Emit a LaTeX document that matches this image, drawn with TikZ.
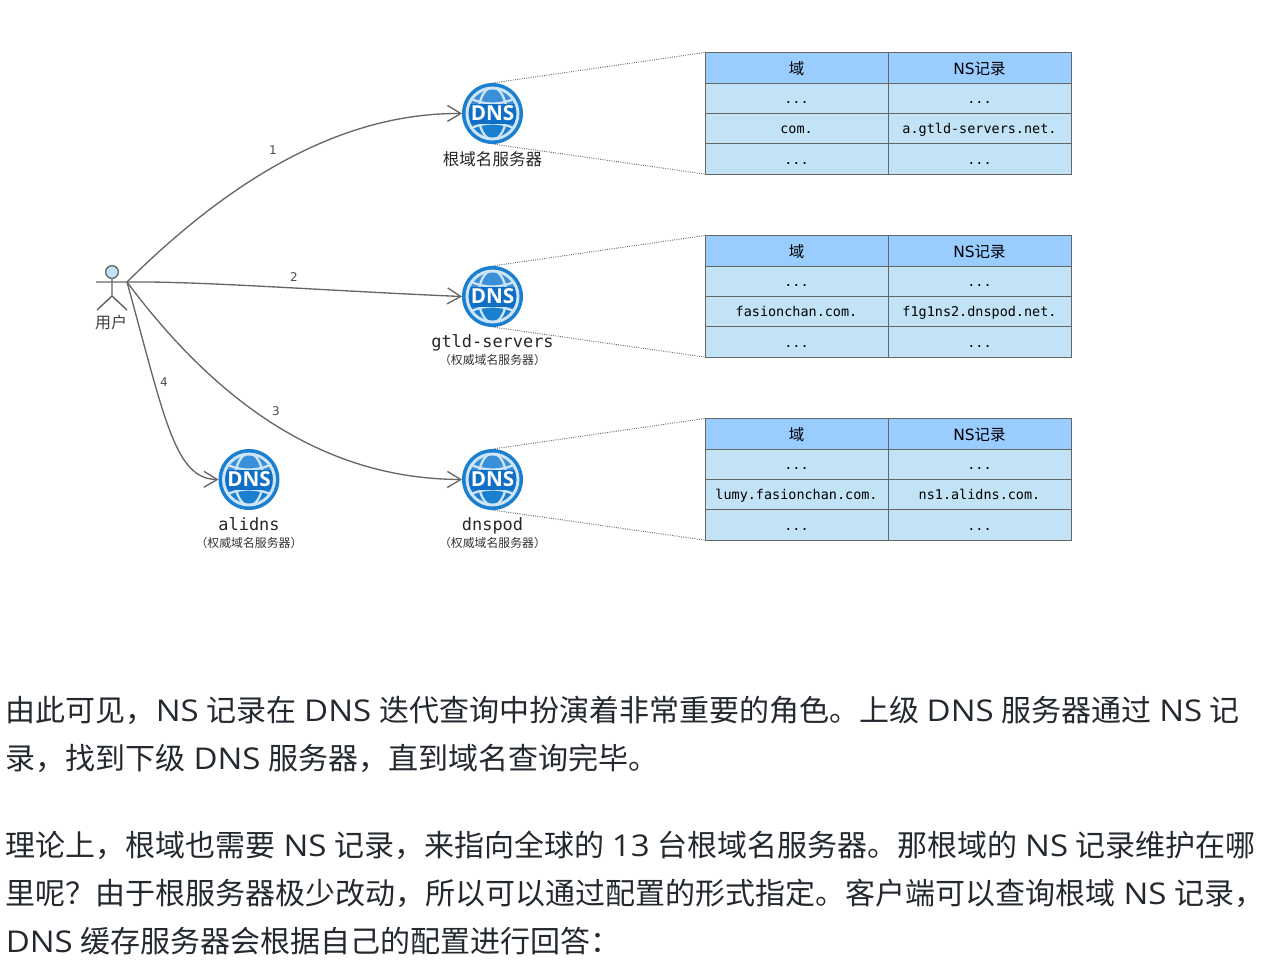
\documentclass[tikz,border=0pt]{standalone}
\usepackage{fontspec}
\setmainfont{Noto Sans CJK SC}
\setmonofont{DejaVu Sans Mono}
\newfontfamily\latfam[FakeStretch=1.1]{Open Sans}
\newfontfamily\iconfam{Open Sans}
\newfontfamily\dvfam{DejaVu Sans}
\usepackage{xcolor}
\usetikzlibrary{arrows.meta, positioning}
\definecolor{headblue}{HTML}{99CCFF}
\definecolor{cellblue}{HTML}{C2E3F6}
\definecolor{edgegray}{HTML}{666666}
\definecolor{dnsrim}{HTML}{1B7FD0}
\definecolor{dnsring}{HTML}{CFE5F6}
\definecolor{dnstop}{HTML}{3A90D8}
\definecolor{dnsband}{HTML}{0F6FC6}
\definecolor{bodyink}{HTML}{24292F}
\newcommand{\lat}[1]{{\latfam #1}}
\newcommand{\bodyfont}{\fontsize{22.5}{26}\selectfont\spaceskip 5.8pt\relax}
% one record table: name, y of the header row, domain, name server
\newcommand{\nstable}[4]{
  \node[headcell] (#1-a0) at (796.5,#2) {域};
  \node[headcell, right=0pt of #1-a0] (#1-b0) {{\dvfam NS}记录};
  \node[reccell, below=0pt of #1-a0] (#1-a1) {...};
  \node[reccell, below=0pt of #1-b0] (#1-b1) {...};
  \node[reccell, below=0pt of #1-a1] (#1-a2) {#3};
  \node[reccell, below=0pt of #1-b1] (#1-b2) {#4};
  \node[reccell, below=0pt of #1-a2] (#1-a3) {...};
  \node[reccell, below=0pt of #1-b2] (#1-b3) {...};
}
% globe with the DNS lettering on top: name, x, y
\newcommand{\dnsglobe}[3]{
  \node[dnsicon] (#1) at (#2,#3) {};
  \begin{scope}[shift={(#2,#3)}]
    \begin{scope}
      \clip (0,0) circle (26.5);
      \fill[dnstop] (-27,-27) rectangle (27,0);
      \draw[dnsring, line width=1.7pt] (0,0) ellipse (14 and 26);
      \draw[dnsring, line width=1.7pt] (-24,-16) .. controls (-9,-8) and (9,-8) .. (24,-16);
      \draw[dnsring, line width=1.7pt] (-24,16) .. controls (-9,8) and (9,8) .. (24,16);
      \fill[dnsband] (-27,-10) rectangle (27,10);
    \end{scope}
    \draw[dnsring, line width=2.2pt] (0,0) circle (25.5);
  \end{scope}
  \node[dnstext] (#1-text) at (#2,#3) {DNS};
}
\begin{document}
\begin{tikzpicture}[
   x=0.75pt, y=-0.75pt, >={Straight Barb[length=10pt, width=12pt]},
   headcell/.style = {rectangle, draw=edgegray, fill=headblue, outer sep=0pt, inner sep=0pt,
                      minimum width=137.25pt, minimum height=22.8pt, font=\fontsize{11.6}{13}\selectfont,
                      text height=12.5pt, text depth=2.5pt},
   reccell/.style = {rectangle, draw=edgegray, fill=cellblue, outer sep=0pt, inner sep=0pt,
                     minimum width=137.25pt, minimum height=22.8pt, font=\ttfamily\fontsize{10.1}{12}\selectfont,
                     text height=10pt, text depth=2pt},
   dnsicon/.style = {circle, fill=dnsrim, inner sep=0pt, minimum size=45.75pt, outer sep=0pt},
   dnstext/.style = {inner sep=0pt, text=white, font=\iconfam\bfseries\fontsize{15.5}{17}\selectfont},
   srvname/.style = {anchor=base, font=\ttfamily\fontsize{12.7}{15}\selectfont, text=black!85, inner sep=0pt},
   srvnote/.style = {font=\fontsize{8.9}{10}\selectfont, text=black!80, inner sep=0pt},
   lookup/.style = {->, edgegray, line width=1pt},
   zoomline/.style = {edgegray, densely dotted, line width=0.7pt},
   steplabel/.style = {font=\dvfam\fontsize{9}{11}\selectfont, text=black!70, inner sep=0pt},
   bodyline/.style = {anchor=base west, inner sep=0pt, text=bodyink, font=\bodyfont}]
  \useasboundingbox (0,0) rectangle (1269,975);

  % stick figure
  \node[circle, draw=edgegray, fill=cellblue, line width=1pt, inner sep=0pt, minimum size=9.5pt] (userhead) at (112,272) {};
  \coordinate (userhip) at (112,296);
  \coordinate (userhand) at (127,282);
  \coordinate (userarm) at (96,282);
  \coordinate (userfootl) at (97,310);
  \coordinate (userfootr) at (127,310);
  \draw[edgegray, line width=1.1pt] (userhead) -- (userhip) (userarm) -- (userhand)
       (userfootl) -- (userhip) -- (userfootr);
  \node[inner sep=0pt, text=black!75, font=\fontsize{12}{14}\selectfont] (username) at (111,322) {用户};

  % name servers
  \dnsglobe{root}{492.5}{113.5}
  \node[inner sep=0pt, text=black!85, font=\fontsize{12.4}{15}\selectfont] (rootname) at (492.5,159) {根域名服务器};
  \dnsglobe{gtld}{492.5}{296.5}
  \node[srvname] (gtldname) at (492.5,347) {gtld-servers};
  \node[srvnote] (gtldnote) at (492.5,360) {（权威域名服务器）};
  \dnsglobe{dnspod}{492.5}{479.5}
  \node[srvname] (dnspodname) at (492.5,530) {dnspod};
  \node[srvnote] (dnspodnote) at (492.5,543) {（权威域名服务器）};
  \dnsglobe{alidns}{249}{479.5}
  \node[srvname] (alidnsname) at (249,530) {alidns};
  \node[srvnote] (alidnsnote) at (249,543) {（权威域名服务器）};

  % record tables
  \nstable{roottab}{67.7}{com.}{a.gtld-servers.net.}
  \nstable{gtldtab}{250.7}{fasionchan.com.}{f1g1ns2.dnspod.net.}
  \nstable{podtab}{433.7}{lumy.fasionchan.com.}{ns1.alidns.com.}

  \draw[zoomline] (root.north) -- (roottab-a0.north west);
  \draw[zoomline] (root.south) -- (roottab-a3.south west);
  \draw[zoomline] (gtld.north) -- (gtldtab-a0.north west);
  \draw[zoomline] (gtld.south) -- (gtldtab-a3.south west);
  \draw[zoomline] (dnspod.north) -- (podtab-a0.north west);
  \draw[zoomline] (dnspod.south) -- (podtab-a3.south west);

  % query order
  \draw[lookup] (userhand) .. controls (260,150) and (370,113) .. (root.west);
  \draw[lookup] (userhand) .. controls (200,281) and (330,291) .. (gtld.west);
  \draw[lookup] (userhand) .. controls (230,420) and (340,479) .. (dnspod.west);
  \draw[lookup] (userhand) .. controls (165,420) and (175,479) .. (alidns.west);
  \node[steplabel] (step1) at (273,150) {1};
  \node[steplabel] (step2) at (294,277) {2};
  \node[steplabel] (step3) at (276,411) {3};
  \node[steplabel] (step4) at (164,382) {4};

  % text below the figure
  \node[bodyline] (para1) at (5.5,721) {由此可见，\lat{NS} 记录在 \lat{DNS} 迭代查询中扮演着非常重要的角色。上级 \lat{DNS} 服务器通过 \lat{NS} 记};
  \node[bodyline] (para2) at (5.5,769) {录，找到下级 \lat{DNS} 服务器，直到域名查询完毕。};
  \node[bodyline] (para3) at (5.5,856) {理论上，根域也需要 \lat{NS} 记录，来指向全球的 \lat{13} 台根域名服务器。那根域的 \lat{NS} 记录维护在哪};
  \node[bodyline] (para4) at (5.5,904) {里呢？由于根服务器极少改动，所以可以通过配置的形式指定。客户端可以查询根域 \lat{NS} 记录，};
  \node[bodyline] (para5) at (5.5,952) {\lat{DNS} 缓存服务器会根据自己的配置进行回答：};
\end{tikzpicture}
\end{document}
